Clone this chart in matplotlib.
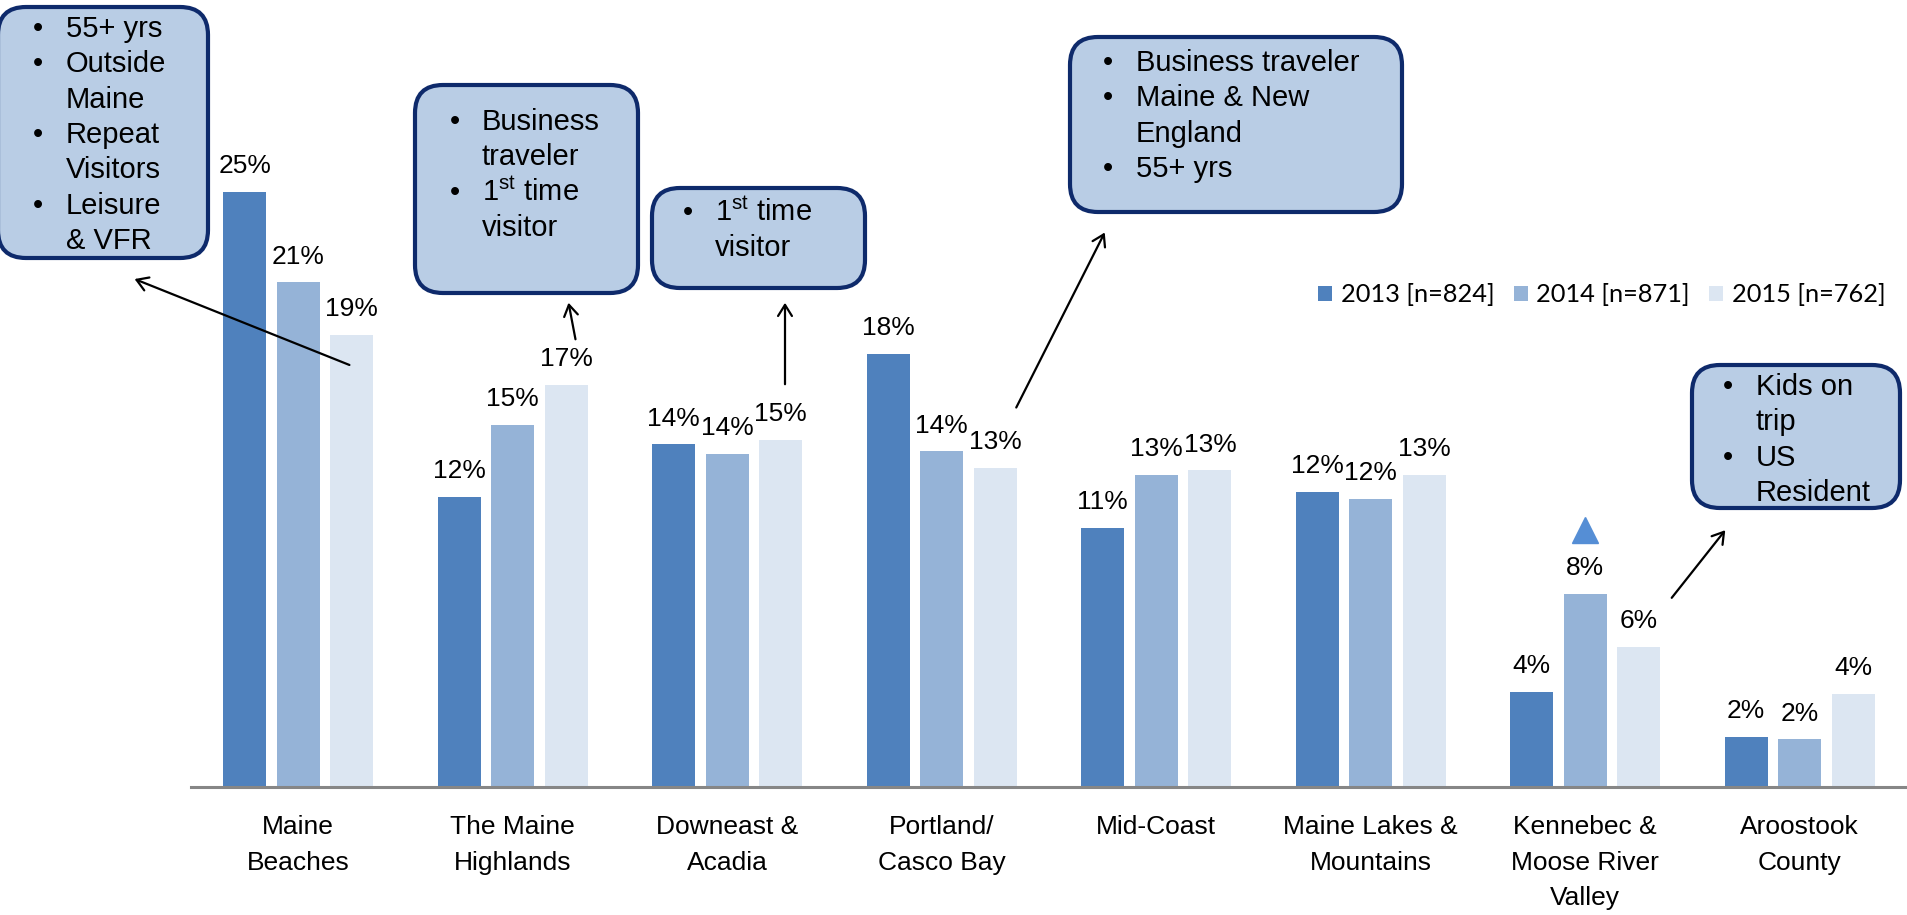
import matplotlib
matplotlib.use("Agg")
import matplotlib.pyplot as plt
import numpy as np
from matplotlib.patches import FancyBboxPatch, FancyArrowPatch
from matplotlib.transforms import offset_copy, IdentityTransform

plt.rcParams["font.family"] = ["Liberation Sans", "DejaVu Sans"]
plt.rcParams["mathtext.fontset"] = "custom"
plt.rcParams["mathtext.rm"] = "Liberation Sans"

regions = [
    "Maine\nBeaches",
    "The Maine\nHighlands",
    "Downeast &\nAcadia",
    "Portland/\nCasco Bay",
    "Mid-Coast",
    "Maine Lakes &\nMountains",
    "Kennebec &\nMoose River\nValley",
    "Aroostook\nCounty",
]
series = ["2013 [n=824]", "2014 [n=871]", "2015 [n=762]"]
share_2013 = [25.0, 12.2, 14.4, 18.2, 10.9, 12.4, 4.0, 2.1]
share_2014 = [21.2, 15.2, 14.0, 14.1, 13.1, 12.1, 8.1, 2.0]
share_2015 = [19.0, 16.9, 14.6, 13.4, 13.3, 13.1, 5.9, 3.9]
colors = ["#4f81bd", "#95b3d7", "#dce6f2"]

# callouts: (left, top, right, bottom) in pixels from top-left, first baseline,
# bullet x, text x, lines
callouts = [
    ((-2, 7, 208, 258), 37, 33, 66,
     [(True, "55+ yrs"), (True, "Outside"), (False, "Maine"), (True, "Repeat"),
      (False, "Visitors"), (True, "Leisure"), (False, "& VFR")]),
    ((415, 85, 638, 293), 130, 450, 482,
     [(True, "Business"), (False, "traveler"),
      (True, "1$^{\\mathrm{st}}$ time"), (False, "visitor")]),
    ((652, 188, 865, 288), 221, 683, 715,
     [(True, "1$^{\\mathrm{st}}$ time"), (False, "visitor")]),
    ((1070, 37, 1402, 212), 71, 1103, 1136,
     [(True, "Business traveler"), (True, "Maine & New"), (False, "England"),
      (True, "55+ yrs")]),
    ((1692, 365, 1900, 508), 395, 1723, 1756,
     [(True, "Kids on"), (False, "trip"), (True, "US"), (False, "Resident")]),
]
# arrows: (tail, head) in pixels from top-left
arrows = [
    ((352, 366), (132, 278)),
    ((576, 342), (568, 300)),
    ((785, 387), (785, 300)),
    ((1015, 410), (1106, 230)),
    ((1670, 600), (1727, 528)),
]

W, H = 1907, 915
fig = plt.figure(figsize=(W / 100, H / 100), dpi=100)
ax = fig.add_axes([191 / W, (H - 787) / H, 1716 / W, 787 / H])
ax.set_xlim(-0.5, len(regions) - 0.5)
ax.set_ylim(0, 787 / 23.8)

x = np.arange(len(regions))
for i, (vals, c, lab) in enumerate(zip([share_2013, share_2014, share_2015], colors, series)):
    xs = x + (i - 1) * 0.25
    ax.bar(xs, vals, width=0.2, color=c, label=lab, zorder=2)
    for xi, v in zip(xs, vals):
        ax.annotate(f"{v:.0f}%", (xi, v), xytext=(0, 13.5), textcoords="offset points",
                    ha="center", va="baseline", fontsize=19)

# significant increase marker above Kennebec 2014
k = 6
tr = offset_copy(ax.transData, fig=fig, x=0, y=46, units="points")
ax.plot([x[k]], [share_2014[k]], marker="^", markersize=19, color="#558ed5",
        transform=tr, clip_on=False, zorder=3)

for s in ["top", "right", "left"]:
    ax.spines[s].set_visible(False)
ax.spines["bottom"].set_color("#868686")
ax.spines["bottom"].set_linewidth(2.2)
ax.set_yticks([])
ax.set_xticks(x)
ax.set_xticklabels(regions, fontsize=19, linespacing=1.62)
ax.tick_params(axis="x", length=0, pad=20)

ax.legend(loc="center left", bbox_to_anchor=(1318 / W, (H - 295) / H),
          bbox_transform=fig.transFigure, ncol=3, frameon=False,
          prop={"family": "Lato", "size": 18.3}, handlelength=0.55,
          handleheight=0.55, handletextpad=0.35, columnspacing=0.75,
          borderaxespad=0, borderpad=0)

for (l, t, r, b), base, bx, tx, lines in callouts:
    patch = FancyBboxPatch((l, H - b), r - l, b - t,
                           boxstyle="round,pad=0,rounding_size=28",
                           transform=IdentityTransform(), facecolor="#b9cde5",
                           edgecolor="#0e2a6b", linewidth=3, zorder=5)
    fig.patches.append(patch)
    for j, (bullet, txt) in enumerate(lines):
        yy = (H - (base + j * 35.3)) / H
        if bullet:
            fig.text(bx / W, yy, "\u2022", fontsize=21, ha="left", va="baseline", zorder=6)
        fig.text(tx / W, yy, txt, fontsize=21, ha="left", va="baseline", zorder=6)

for (x0, y0), (x1, y1) in arrows:
    fig.add_artist(FancyArrowPatch(
        (x0, H - y0), (x1, H - y1), transform=IdentityTransform(),
        arrowstyle="->,head_length=8,head_width=5", color="black", linewidth=1.6,
        mutation_scale=1, zorder=4))

fig.savefig("out.png", dpi=100)
